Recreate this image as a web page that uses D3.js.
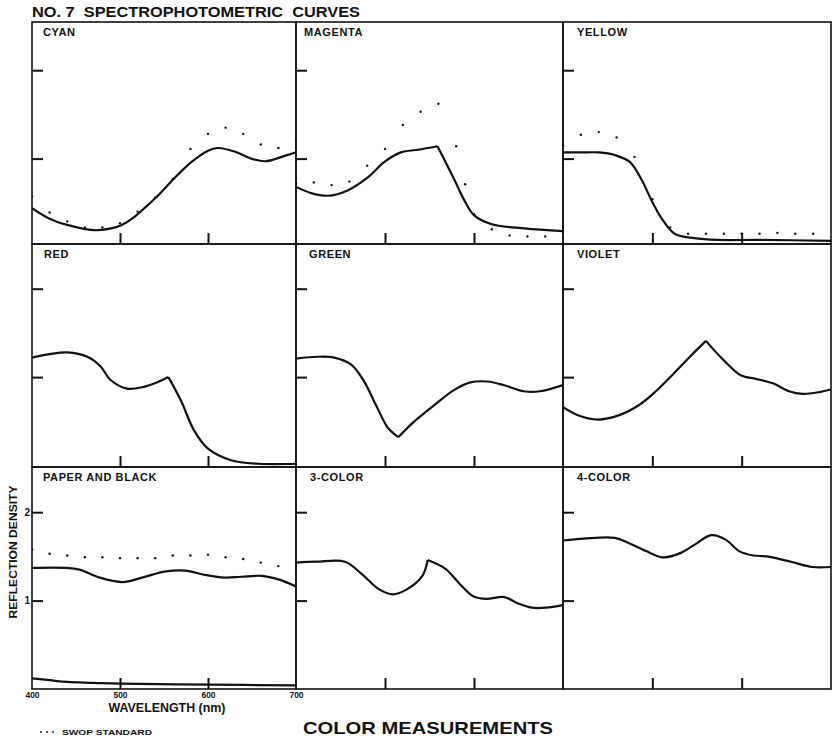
<!DOCTYPE html>
<html>
<head>
	<title> spectrophotometric curves </title>
	<script src="https://d3js.org/d3.v7.min.js"></script>
	<style>
		body { margin: 0; background: #fff; }
		text { font-family: "Liberation Sans", Arial, Helvetica, sans-serif; font-weight: bold; fill: #111; }
	</style>
</head>
<body>
	<svg width="833" height="741"></svg>
	<script type="text/javascript">
		// panel names, left to right, top to bottom
		let panelNames = ["CYAN", "MAGENTA", "YELLOW", "RED", "GREEN", "VIOLET",
				"PAPER AND BLACK", "3-COLOR", "4-COLOR"];
		let xTicks = [400, 500, 600, 700];
		let yTicks = [1, 2];

		// measured curves, [wavelength nm, reflection density]
		let cyanCurve = [[400,0.44],[420,0.32],[440,0.25],[470,0.19],[490,0.21],[502,0.25],[515,0.33],[530,0.46],
				[545,0.60],[562,0.78],[581,0.96],[600,1.09],[611,1.12],[630,1.08],[649,1.00],[665,0.97],[684,1.02],[700,1.07]];
		let magentaCurve = [[400,0.68],[417,0.61],[436,0.58],[458,0.64],[481,0.79],[499,0.96],[518,1.07],
				[537,1.10],[559,1.14],[578,0.76],[589,0.53],[600,0.36],[619,0.26],[657,0.21],[700,0.18]];
		let yellowCurve = [[400,1.07],[421,1.07],[440,1.07],[458,1.04],[475,0.96],[488,0.76],[499,0.53],
				[510,0.33],[525,0.15],[547,0.10],[573,0.08],[620,0.08],[700,0.07]];
		let redCurve = [[400,1.22],[420,1.26],[440,1.28],[463,1.23],[478,1.12],[489,0.97],[508,0.87],
				[527,0.89],[542,0.94],[555,1.00],[569,0.74],[584,0.40],[600,0.19],[626,0.06],[657,0.02],[700,0.02]];
		let greenCurve = [[400,1.21],[424,1.23],[443,1.22],[462,1.14],[476,0.96],[491,0.66],[503,0.43],
				[515,0.32],[532,0.49],[555,0.68],[577,0.85],[596,0.94],[615,0.95],[633,0.91],[656,0.84],[674,0.84],[700,0.91]];
		let violetCurve = [[400,0.66],[419,0.56],[439,0.52],[463,0.57],[486,0.69],[504,0.84],[523,1.03],
				[541,1.22],[560,1.41],[579,1.20],[599,1.02],[616,0.98],[635,0.93],[653,0.84],[668,0.81],[687,0.83],[700,0.86]];
		let blackCurve = [[400,1.37],[439,1.37],[454,1.35],[477,1.26],[503,1.21],[525,1.26],[552,1.33],
				[574,1.34],[597,1.29],[619,1.26],[638,1.27],[661,1.28],[680,1.24],[700,1.16]];
		let paperCurve = [[400,0.12],[420,0.10],[440,0.08],[470,0.07],[500,0.06],[600,0.05],[700,0.04]];
		let threeColorCurve = [[400,1.43],[423,1.44],[455,1.44],[474,1.30],[493,1.13],[509,1.07],[525,1.13],
				[542,1.28],[548,1.46],[568,1.36],[583,1.20],[599,1.05],[614,1.02],[634,1.04],[649,0.97],[665,0.92],[681,0.92],[700,0.95]];
		let fourColorCurve = [[400,1.68],[423,1.70],[458,1.71],[474,1.65],[493,1.56],[512,1.49],[532,1.54],
				[547,1.63],[566,1.74],[582,1.69],[597,1.56],[613,1.51],[628,1.50],[655,1.44],[679,1.38],[700,1.38]];

		// SWOP standard dots
		let cyanSwop = [[400,0.57],[420,0.39],[440,0.29],[460,0.22],[480,0.22],[500,0.27],[520,0.40],[540,0.56],
				[560,0.77],[580,1.11],[600,1.28],[620,1.35],[640,1.28],[660,1.16],[680,1.12],[700,1.21]];
		let magentaSwop = [[400,0.72],[420,0.73],[440,0.70],[460,0.74],[480,0.92],[500,1.11],[520,1.38],[540,1.53],
				[560,1.62],[580,1.14],[590,0.71],[600,0.37],[620,0.20],[640,0.13],[660,0.12],[680,0.12]];
		let yellowSwop = [[400,1.15],[420,1.27],[440,1.30],[460,1.24],[480,1.02],[500,0.54],[520,0.22],[540,0.15],
				[560,0.15],[580,0.15],[600,0.15],[620,0.15],[640,0.16],[660,0.15],[680,0.15]];
		let blackSwop = [[400,1.58],[420,1.53],[440,1.51],[460,1.49],[480,1.49],[500,1.48],[520,1.48],[540,1.48],
				[560,1.51],[580,1.51],[600,1.52],[620,1.49],[640,1.47],[660,1.43],[680,1.39],[700,1.37]];

		// wavelength of the sharp corner on a curve, if it has one
		let cornerNm = [null, 559, null, 555, 515, 560, null, 548, null];

		let solidCurves = [[cyanCurve], [magentaCurve], [yellowCurve], [redCurve], [greenCurve], [violetCurve],
				[blackCurve, paperCurve], [threeColorCurve], [fourColorCurve]];
		let swopDots = [cyanSwop, magentaSwop, yellowSwop, null, null, null, blackSwop, null, null];

		// page layout
		let colEdges = [32, 296, 563, 831];
		let rowEdges = [22, 244, 467, 689];
		let rowZero = [247, 465.5, 689];
		let unit = 88.4;
		let labelDx = [11, 8, 14, 12, 13, 14, 11, 14, 14];

		let svg = d3.select("svg");

		svg.append("text").attr("x", 32).attr("y", 17)
			.attr("font-size", 14).attr("textLength", 328).attr("lengthAdjust", "spacingAndGlyphs")
			.style("white-space", "pre")
			.text("NO. 7  SPECTROPHOTOMETRIC  CURVES");

		let line = d3.line().curve(d3.curveCatmullRom.alpha(0.5));

		function splitAt(curve, nm)
		{
			if (nm == null) { return [curve]; }
			let k = curve.findIndex(d => d[0] == nm);
			return [curve.slice(0, k + 1), curve.slice(k)];
		}

		panelNames.forEach(function(name, i) {
			let c = i % 3, r = Math.floor(i / 3);
			let x0 = colEdges[c], x1 = colEdges[c + 1];
			let y0 = rowEdges[r], y1 = rowEdges[r + 1];
			let x = d3.scaleLinear().domain([400, 700]).range([x0, x1]);
			let y = d3.scaleLinear().domain([0, 2.5]).range([rowZero[r], rowZero[r] - 2.5 * unit]);
			line.x(d => x(d[0])).y(d => y(d[1]));

			let g = svg.append("g");
			g.append("clipPath").attr("id", "clip" + i)
				.append("rect").attr("x", x0).attr("y", y0).attr("width", x1 - x0).attr("height", y1 - y0);

			// inward ticks
			g.append("g").attr("transform", "translate(" + x0 + ",0)")
				.call(d3.axisLeft(y).tickValues(yTicks).tickSize(-11).tickFormat(""));
			g.append("g").attr("transform", "translate(0," + y1 + ")")
				.call(d3.axisBottom(x).tickValues([500, 600]).tickSize(-11).tickFormat(""));
			g.selectAll(".domain").remove();
			g.selectAll(".tick line").attr("stroke", "#111").attr("stroke-width", 2);

			let plot = g.append("g").attr("clip-path", "url(#clip" + i + ")");
			solidCurves[i].forEach(function(curve, j) {
				let parts = j == 0 ? splitAt(curve, cornerNm[i]) : [curve];
				let d = parts.map(p => line(p)).join("");
				plot.append("path").attr("d", d)
					.attr("fill", "none").attr("stroke", "#111").attr("stroke-width", 2.2)
					.attr("stroke-linejoin", "miter");
			});
			if (swopDots[i]) {
				plot.selectAll("circle").data(swopDots[i]).enter().append("circle")
					.attr("cx", d => x(d[0])).attr("cy", d => y(d[1])).attr("r", 1.2).attr("fill", "#111");
			}

			g.append("rect").attr("x", x0).attr("y", y0).attr("width", x1 - x0).attr("height", y1 - y0)
				.attr("fill", "none").attr("stroke", "#111").attr("stroke-width", 1.6);

			g.append("text").attr("x", x0 + labelDx[i]).attr("y", y0 + 14)
				.attr("font-size", 11).attr("letter-spacing", 0.6).text(name);

			if (i == 6) {
				let ya = g.append("g").attr("transform", "translate(" + x0 + ",0)")
					.call(d3.axisLeft(y).tickValues(yTicks).tickSize(0).tickPadding(2).tickFormat(d3.format("d")));
				ya.selectAll("text").attr("font-size", 10).attr("font-family", null).attr("fill", "#111");
				let xa = g.append("g").attr("transform", "translate(0," + y1 + ")")
					.call(d3.axisBottom(x).tickValues(xTicks).tickSize(0).tickPadding(3));
				xa.selectAll("text").attr("font-size", 8.5).attr("font-family", null).attr("fill", "#111");
				g.selectAll(".domain").remove();
				g.append("text").attr("x", (x0 + x1) / 2 + 3).attr("y", 711.5).attr("text-anchor", "middle")
					.attr("font-size", 12).attr("textLength", 117).attr("lengthAdjust", "spacingAndGlyphs")
					.text("WAVELENGTH (nm)");
				g.append("text").attr("transform", "translate(16.5," + y(1.55) + ") rotate(-90)")
					.attr("text-anchor", "middle").attr("font-size", 11)
					.attr("textLength", 133).attr("lengthAdjust", "spacingAndGlyphs")
					.text("REFLECTION DENSITY");
			}
		});

		// legend
		let legend = svg.append("g");
		legend.selectAll("circle").data([0, 1, 2]).enter().append("circle")
			.attr("cx", d => 41 + d * 6).attr("cy", 732).attr("r", 0.9).attr("fill", "#111");
		legend.append("text").attr("x", 62).attr("y", 735).attr("font-size", 8)
			.attr("textLength", 90).attr("lengthAdjust", "spacingAndGlyphs").text("SWOP STANDARD");

		svg.append("text").attr("x", 303).attr("y", 734).attr("font-size", 17)
			.attr("textLength", 250).attr("lengthAdjust", "spacingAndGlyphs").text("COLOR MEASUREMENTS");
	</script>
</body>
</html>
